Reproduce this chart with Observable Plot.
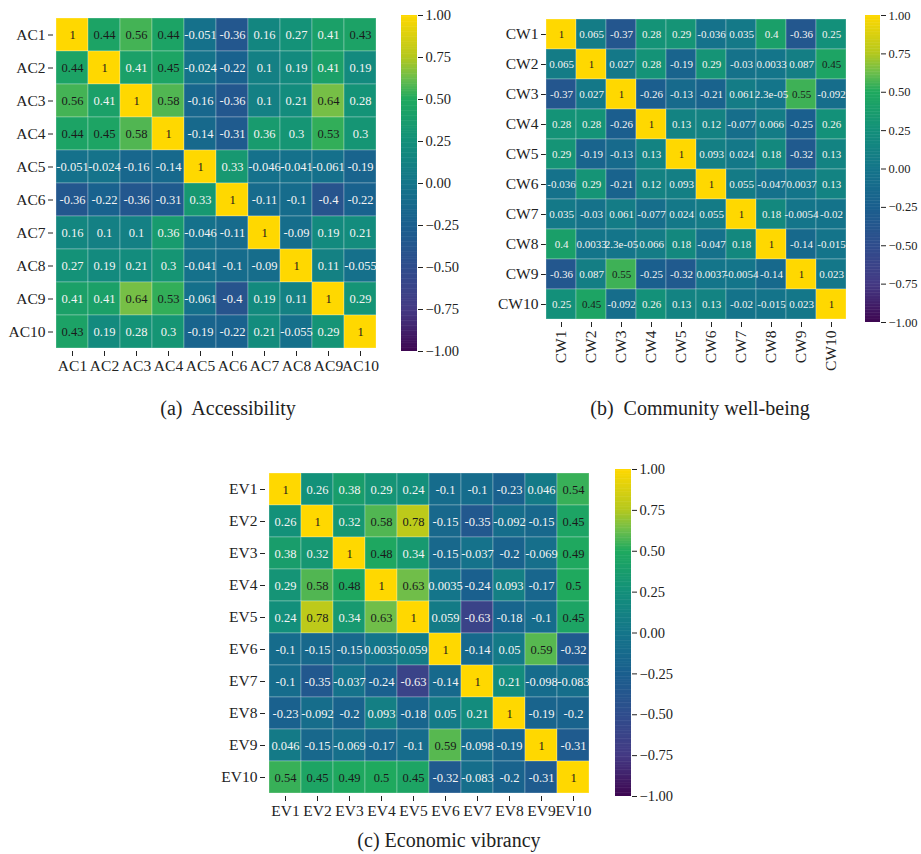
<!DOCTYPE html>
<html><head><meta charset="utf-8">
<script src="https://cdn.jsdelivr.net/npm/d3@7"></script>
<script src="https://cdn.jsdelivr.net/npm/@observablehq/plot@0.6"></script>
<style>
body{margin:0;background:#fff;width:921px;height:854px;position:relative;overflow:hidden;font-family:"Liberation Serif","Times New Roman",serif}
.p{position:absolute}
.p svg{max-width:none !important}
.cap{position:absolute;font-size:20px;transform:translate(-50%,-50%);white-space:pre;color:#222}
</style></head><body>
<script>
const acLabels = ["AC1","AC2","AC3","AC4","AC5","AC6","AC7","AC8","AC9","AC10"];
const acValues = [
 [1,0.44,0.56,0.44,-0.051,-0.36,0.16,0.27,0.41,0.43],
 [0.44,1,0.41,0.45,-0.024,-0.22,0.1,0.19,0.41,0.19],
 [0.56,0.41,1,0.58,-0.16,-0.36,0.1,0.21,0.64,0.28],
 [0.44,0.45,0.58,1,-0.14,-0.31,0.36,0.3,0.53,0.3],
 [-0.051,-0.024,-0.16,-0.14,1,0.33,-0.046,-0.041,-0.061,-0.19],
 [-0.36,-0.22,-0.36,-0.31,0.33,1,-0.11,-0.1,-0.4,-0.22],
 [0.16,0.1,0.1,0.36,-0.046,-0.11,1,-0.09,0.19,0.21],
 [0.27,0.19,0.21,0.3,-0.041,-0.1,-0.09,1,0.11,-0.055],
 [0.41,0.41,0.64,0.53,-0.061,-0.4,0.19,0.11,1,0.29],
 [0.43,0.19,0.28,0.3,-0.19,-0.22,0.21,-0.055,0.29,1]
];
const cwLabels = ["CW1","CW2","CW3","CW4","CW5","CW6","CW7","CW8","CW9","CW10"];
const cwValues = [
 [1,0.065,-0.37,0.28,0.29,-0.036,0.035,0.4,-0.36,0.25],
 [0.065,1,0.027,0.28,-0.19,0.29,-0.03,0.0033,0.087,0.45],
 [-0.37,0.027,1,-0.26,-0.13,-0.21,0.061,2.3e-05,0.55,-0.092],
 [0.28,0.28,-0.26,1,0.13,0.12,-0.077,0.066,-0.25,0.26],
 [0.29,-0.19,-0.13,0.13,1,0.093,0.024,0.18,-0.32,0.13],
 [-0.036,0.29,-0.21,0.12,0.093,1,0.055,-0.047,0.0037,0.13],
 [0.035,-0.03,0.061,-0.077,0.024,0.055,1,0.18,-0.0054,-0.02],
 [0.4,0.0033,2.3e-05,0.066,0.18,-0.047,0.18,1,-0.14,-0.015],
 [-0.36,0.087,0.55,-0.25,-0.32,0.0037,-0.0054,-0.14,1,0.023],
 [0.25,0.45,-0.092,0.26,0.13,0.13,-0.02,-0.015,0.023,1]
];
const evLabels = ["EV1","EV2","EV3","EV4","EV5","EV6","EV7","EV8","EV9","EV10"];
const evValues = [
 [1,0.26,0.38,0.29,0.24,-0.1,-0.1,-0.23,0.046,0.54],
 [0.26,1,0.32,0.58,0.78,-0.15,-0.35,-0.092,-0.15,0.45],
 [0.38,0.32,1,0.48,0.34,-0.15,-0.037,-0.2,-0.069,0.49],
 [0.29,0.58,0.48,1,0.63,0.0035,-0.24,0.093,-0.17,0.5],
 [0.24,0.78,0.34,0.63,1,0.059,-0.63,-0.18,-0.1,0.45],
 [-0.1,-0.15,-0.15,0.0035,0.059,1,-0.14,0.05,0.59,-0.32],
 [-0.1,-0.35,-0.037,-0.24,-0.63,-0.14,1,0.21,-0.098,-0.083],
 [-0.23,-0.092,-0.2,0.093,-0.18,0.05,0.21,1,-0.19,-0.2],
 [0.046,-0.15,-0.069,-0.17,-0.1,0.59,-0.098,-0.19,1,-0.31],
 [0.54,0.45,0.49,0.5,0.45,-0.32,-0.083,-0.2,-0.31,1]
];
const colorbarTicks = [-1,-0.75,-0.5,-0.25,0,0.25,0.5,0.75,1];
const captions = ["(a)  Accessibility","(b)  Community well-being","(c) Economic vibrancy"];

// colour ramp (viridis-like, as rendered in the reference)
const rampStops  = [-1,-0.75,-0.5,-0.25,0,0.25,0.5,0.625,0.75,1];
const rampColors = ["#3e0751","#443a84","#2f4d8d","#1a5f8e","#14758a","#13907a","#1fa95e","#6dbe4b","#b4c81e","#ffd800"];
const colorOpt = {type:"linear", domain: rampStops, range: rampColors, interpolate:"rgb"};

const FONT = '"Liberation Serif","Times New Roman",serif';

function pyG(v){
  if (v === 1) return "1";
  if (v !== 0 && Math.abs(v) < 1e-4) {
    let s = v.toExponential(1);
    return s.replace(/e([+-])(\d)$/, "e$10$2");
  }
  return String(Number(v.toPrecision(2)));
}

function place(el, left, top, w){
  const d = document.createElement("div");
  d.className = "p"; d.style.left = left+"px"; d.style.top = top+"px"; d.style.width = w+"px";
  d.appendChild(el); document.body.appendChild(d);
}

function heatmap(labels, matrix, left, top, cw, ch, rotate, fs){
  const data = [];
  matrix.forEach((row,i)=>row.forEach((v,j)=>data.push({row:labels[i], col:labels[j], v})));
  const mL = 60, mR = 4, mT = 4, mB = rotate ? 50 : 30;
  const w = mL + cw*labels.length + mR, h = mT + ch*labels.length + mB;
  const p = Plot.plot({
    width: w, height: h, marginLeft: mL, marginRight: mR, marginTop: mT, marginBottom: mB,
    style: {fontFamily: FONT, fontSize: "15.5px", background: "transparent", color:"#222", overflow:"visible"},
    x: {domain: labels, padding: 0, tickSize: 5, tickPadding: 3, tickRotate: rotate ? -90 : 0, label: null},
    y: {domain: labels, padding: 0, tickSize: 5, tickPadding: 3, label: null},
    color: colorOpt,
    marks: [
      Plot.cell(data, {x:"col", y:"row", fill:"v", stroke:"white", strokeOpacity:0.28, strokeWidth:1}),
      Plot.text(data, {x:"col", y:"row", text: d=>pyG(d.v), filter: d=>d.v>0.42, fill:"#1a1a1a", fontSize:fs}),
      Plot.text(data, {x:"col", y:"row", text: d=>pyG(d.v), filter: d=>d.v<=0.42, fill:"#f4f4f4", fontSize:fs})
    ]
  });
  place(p, left - mL, top - mT, w);
}

function colorbar(left, top, bw, bh, fs){
  const n = 200, step = 2/n;
  const stops = d3.range(n).map(i => -1 + i*step);
  const mT = 10, mB = 10, mR = 50;
  const p = Plot.plot({
    width: bw + mR, height: bh + mT + mB, marginLeft: 0, marginRight: mR, marginTop: mT, marginBottom: mB,
    style: {fontFamily: FONT, fontSize: fs + "px", background: "transparent", color:"#222", overflow:"visible"},
    x: {domain:[0,1], axis:null},
    y: {domain:[-1,1], axis:"right", ticks: colorbarTicks, tickFormat: d3.format(".2f"), tickSize:5, tickPadding:3, label:null},
    color: colorOpt,
    marks: [
      Plot.rect(stops, {x1: ()=>0, x2: ()=>1, y1: d=>d, y2: d=>Math.min(1, d+step*1.3), fill: d=>d+step/2})
    ]
  });
  place(p, left, top - mT, bw + mR);
}

function caption(text, cx, cy){
  const d = document.createElement("div");
  d.className = "cap"; d.textContent = text;
  d.style.left = cx+"px"; d.style.top = cy+"px";
  document.body.appendChild(d);
}

heatmap(acLabels, acValues, 53, 15, 32.5, 33.6, false, 12.5);
colorbar(401, 15, 16, 336, 14.5);
caption(captions[0], 228, 408);

heatmap(cwLabels, cwValues, 546, 15, 30, 30.7, true, 11);
colorbar(865, 15, 15, 307, 12.5);
caption(captions[1], 700, 408);

heatmap(evLabels, evValues, 265, 469, 32.8, 32.7, false, 12.5);
colorbar(615, 469, 16, 327, 14.5);
caption(captions[2], 449, 840);
</script>
</body></html>
